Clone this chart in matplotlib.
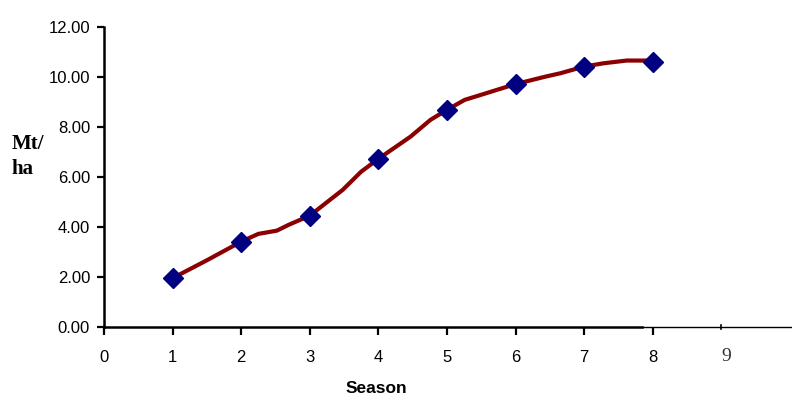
import matplotlib
matplotlib.use("Agg")
import matplotlib.pyplot as plt

# Yield per season (markers)
seasons = [1, 2, 3, 4, 5, 6, 7, 8]
yield_mt_ha = [1.94, 3.40, 4.44, 6.71, 8.67, 9.70, 10.40, 10.60]

# Trend line drawn through the seasonal yields
trend_x = [1.00, 1.51, 2.00, 2.25, 2.52, 2.69, 3.00, 3.48, 3.75, 4.00, 4.47,
           4.76, 5.00, 5.26, 5.45, 6.00, 6.44, 6.65, 7.00, 7.28, 7.62, 7.95]
trend_y = [1.94, 2.67, 3.40, 3.71, 3.84, 4.07, 4.44, 5.47, 6.20, 6.71, 7.60,
           8.27, 8.67, 9.07, 9.23, 9.70, 10.00, 10.13, 10.40, 10.53, 10.64, 10.64]

x_ticks = [0, 1, 2, 3, 4, 5, 6, 7, 8]
y_ticks = [0, 2, 4, 6, 8, 10, 12]

fig = plt.figure(figsize=(7.92, 3.96), dpi=100)
ax = fig.add_axes([0.1313, 0.175, 0.8687, 0.758])

ax.plot(trend_x, trend_y, color="#8b0000", lw=3.0, solid_joinstyle="round",
        solid_capstyle="round", zorder=2)
ax.plot(seasons, yield_mt_ha, linestyle="none", marker="D", markersize=10.5,
        color="#000080", zorder=3, clip_on=False)

ax.set_xlim(0, 10.03)
ax.set_ylim(0, 12)

for s in ("top", "right"):
    ax.spines[s].set_visible(False)
ax.spines["left"].set_linewidth(1.8)
ax.spines["bottom"].set_linewidth(1.8)
ax.spines["bottom"].set_bounds(0, 7.84)
# thinner extension of the season axis
ax.plot([7.84, 10.03], [0, 0], color="black", lw=1.0, clip_on=False, zorder=1)
ax.plot([9, 9], [-0.1, 0.06], color="black", lw=1.2, clip_on=False, zorder=1)

ax.set_yticks(y_ticks)
ax.set_yticklabels([f"{v:.2f}" for v in y_ticks])
ax.set_xticks(x_ticks)
ax.set_xticklabels([str(v) for v in x_ticks])
ax.tick_params(axis="y", direction="out", length=5, width=1.6, pad=5,
               labelsize=12)
ax.tick_params(axis="x", direction="out", length=6, width=1.6, pad=11,
               labelsize=12)
for lab in ax.get_xticklabels() + ax.get_yticklabels():
    lab.set_family("Liberation Sans")

ax.text(9.07, -1.2, "9", ha="center", va="center", fontsize=14,
        family="Liberation Serif", color="#333333", clip_on=False)

fig.text(0.015, 0.605, "Mt/\nha", ha="left", va="center", fontsize=15,
         fontweight="bold", family="Liberation Serif", linespacing=1.35)
fig.text(0.475, 0.018, "Season", ha="center", va="center", fontsize=12.5,
         fontweight="bold", family="Liberation Sans")

fig.savefig("out.png", dpi=100)
